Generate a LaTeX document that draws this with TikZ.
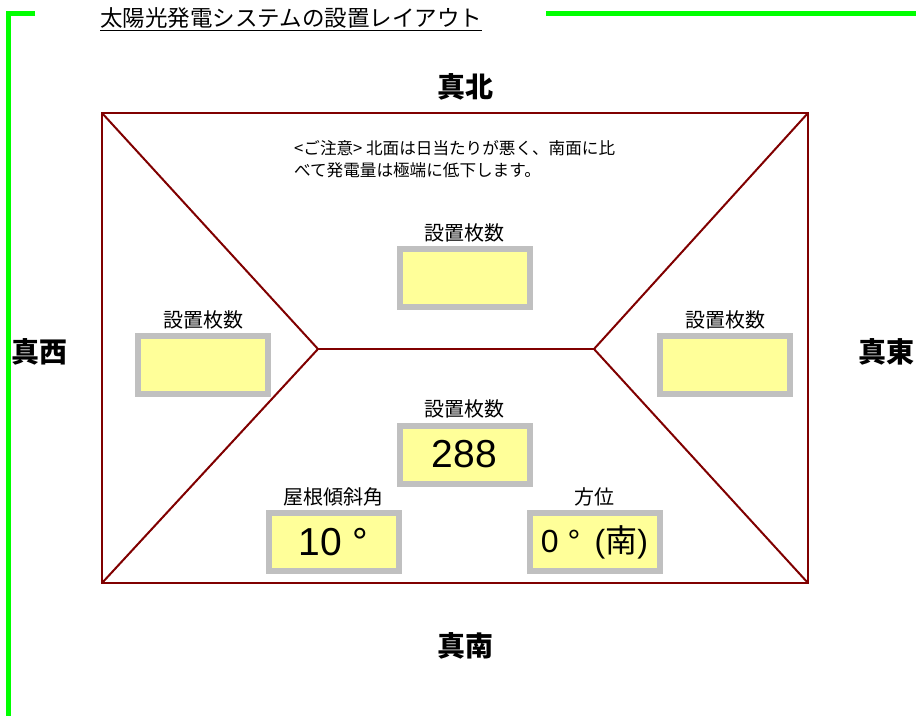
\documentclass[tikz,border=0pt]{standalone}
\usepackage{fontspec}
\setmainfont{Noto Sans CJK JP}
\newfontfamily\latinfont{Liberation Sans}
\usetikzlibrary{positioning}
\definecolor{roofred}{HTML}{800000}
\definecolor{panelgray}{HTML}{C0C0C0}
\definecolor{panelfill}{HTML}{FFFF99}
\definecolor{framegreen}{HTML}{00FF00}
\tikzset{
 panel/.style={draw=panelgray, fill=panelfill, line width=6pt, minimum width=130pt, minimum height=58pt, inner sep=0pt},
 caption/.style={font=\fontsize{20}{20}\selectfont, inner sep=0pt},
 compass/.style={font=\bfseries\fontsize{28}{28}\selectfont, inner sep=0pt},
 roof/.style={draw=roofred, line width=2pt}
}

\begin{document}
\begin{tikzpicture}[x=1pt,y=-1pt]
 \useasboundingbox (0,0) rectangle (916,716);
 \draw [framegreen, line width=5pt] (35,13) -- (8,13) -- (8,716);
 \draw [framegreen, line width=5pt] (546,13) -- (916,13);
 \node [anchor=west, inner sep=0pt, font=\fontsize{22.5}{22.5}\selectfont] (title) at (100,19) {\underline{太陽光発電システムの設置レイアウト}};

 % roof outline
 \coordinate (nw) at (102,113);
 \coordinate (ne) at (808,113);
 \coordinate (se) at (808,583);
 \coordinate (sw) at (102,583);
 \coordinate (ridgew) at (318,349);
 \coordinate (ridgee) at (594,349);
 \draw [roof] (nw) rectangle (se);
 \draw [roof] (nw) -- (ridgew) -- (sw);
 \draw [roof] (ne) -- (ridgee) -- (se);
 \draw [roof] (ridgew) -- (ridgee);

 \node [compass] (north) at (465,87) {真北};
 \node [compass] (west) at (40,352) {真西};
 \node [compass] (east) at (886,352) {真東};
 \node [compass] (south) at (465,646) {真南};

 \node [anchor=north west, inner sep=0pt, align=left, font=\fontsize{16.6}{22}\selectfont] (notice) at (294,140)
  {<ご注意> 北面は日当たりが悪く、南面に比\\べて発電量は極端に低下します。};

 % panels
 \node [panel] (pn) at (464.5,278) {};
 \node [caption, above=4pt of pn] {設置枚数};
 \node [panel] (pw) at (203,365) {};
 \node [caption, above=4pt of pw] {設置枚数};
 \node [panel] (pe) at (725,365) {};
 \node [caption, above=4pt of pe] {設置枚数};
 \node [panel, font=\latinfont\fontsize{39}{39}\selectfont] (ps) at (464.5,454.5) {288};
 \node [caption, above=4pt of ps] {設置枚数};
 \node [panel, font=\latinfont\fontsize{39}{39}\selectfont] (tilt) at (333.5,542) {10 °};
 \node [caption, above=4pt of tilt] {屋根傾斜角};
 \node [panel, font=\latinfont\fontsize{32}{32}\selectfont] (azimuth) at (594.5,542) {0 ° \,({\rmfamily 南})};
 \node [caption, above=4pt of azimuth] {方位};
\end{tikzpicture}
\end{document}
